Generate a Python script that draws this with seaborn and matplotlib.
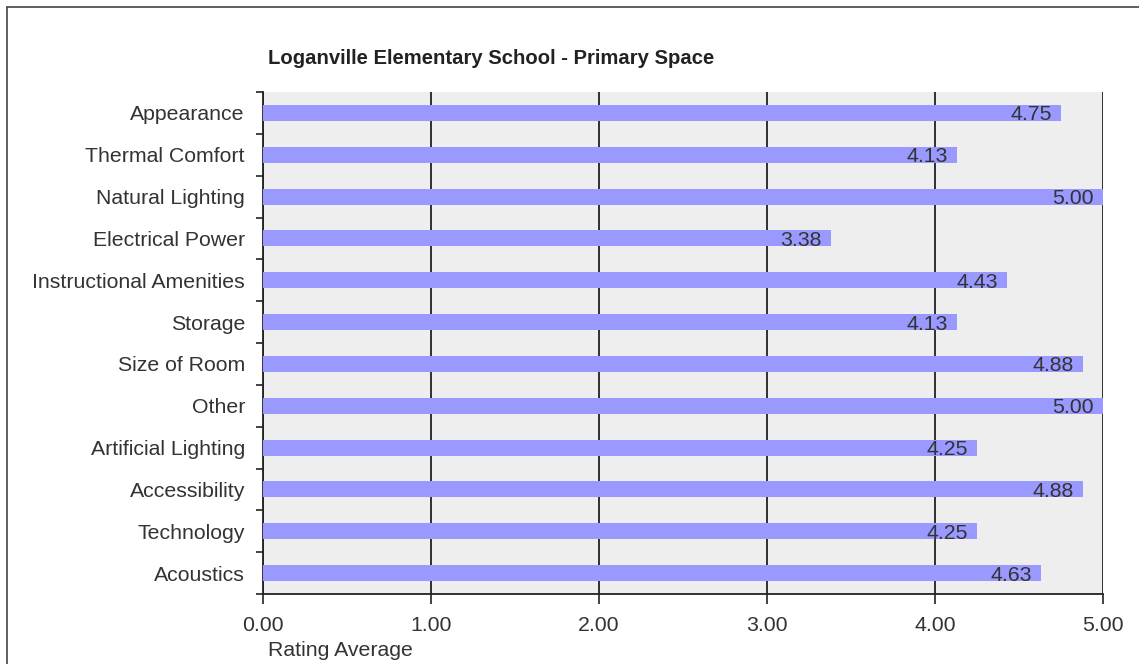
import matplotlib
matplotlib.use("Agg")
import matplotlib.pyplot as plt
from matplotlib.lines import Line2D
from matplotlib.ticker import FixedLocator, FormatStrFormatter
import numpy as np
import pandas as pd
import seaborn as sns

# Chart data
categories = [
    "Appearance", "Thermal Comfort", "Natural Lighting", "Electrical Power",
    "Instructional Amenities", "Storage", "Size of Room", "Other",
    "Artificial Lighting", "Accessibility", "Technology", "Acoustics",
]
ratings = [4.75, 4.13, 5.00, 3.38, 4.43, 4.13, 4.88, 5.00, 4.25, 4.88, 4.25, 4.63]
x_ticks = [0, 1, 2, 3, 4, 5]

title = "Loganville Elementary School - Primary Space"
x_label = "Rating Average"

df = pd.DataFrame({"category": categories, "rating": ratings})

sns.set_style("white")
plt.rcParams["font.family"] = ["Liberation Sans", "DejaVu Sans"]

text_color = "#333333"
font_size = 15.3
fig = plt.figure(figsize=(11.39, 6.64), dpi=100)
ax = fig.add_axes([263 / 1139, 1 - 594 / 664, 840 / 1139, 502 / 664])
ax.set_facecolor("#EEEEEE")

sns.barplot(data=df, y="category", x="rating", orient="h", color="#9999FF",
            saturation=1, width=0.38, linewidth=0, ax=ax, zorder=3)

ax.set_xlim(0, 5)
ax.set_ylim(len(categories) - 0.5, -0.5)

# vertical grid lines
ax.xaxis.set_major_locator(FixedLocator(x_ticks))
ax.xaxis.set_major_formatter(FormatStrFormatter("%.2f"))
ax.grid(axis="x", color="#222222", linewidth=1.3, zorder=1)
ax.set_axisbelow(True)

# category ticks at boundaries
ax.yaxis.set_minor_locator(FixedLocator(np.arange(-0.5, len(categories), 1.0)))
ax.tick_params(axis="y", which="minor", length=5, width=1.2, color="#222222", left=True)
ax.tick_params(axis="y", which="major", length=0, pad=13, labelsize=font_size, labelcolor=text_color)
ax.tick_params(axis="x", which="major", length=7, width=1.2, color="#222222", bottom=True,
               pad=9, labelsize=font_size, labelcolor=text_color)

for side in ["left", "bottom"]:
    ax.spines[side].set_color("#222222")
    ax.spines[side].set_linewidth(1.3)
ax.spines["top"].set_visible(False)
ax.spines["right"].set_visible(False)

ax.set_ylabel("")
ax.set_xlabel("")
fig.text(268 / 1139, 1 - 651 / 664, x_label, fontsize=font_size, color=text_color,
         ha="left", va="center")

# value labels at the bar ends
for i, v in enumerate(ratings):
    ax.annotate(f"{v:.2f}", xy=(v, i), xytext=(-9, -2), textcoords="offset pixels",
                ha="right", va="center", fontsize=font_size, color=text_color, zorder=4)

fig.text(268 / 1139, 1 - 58 / 664, title, fontsize=14.6, fontweight="bold",
         color="#222222", ha="left", va="center")

# outer frame (top and left)
fig.add_artist(Line2D([7 / 1139, 1.0], [1 - 7 / 664] * 2, color="#444444", linewidth=1.2,
                      transform=fig.transFigure))
fig.add_artist(Line2D([7 / 1139] * 2, [0.0, 1 - 7 / 664], color="#444444", linewidth=1.2,
                      transform=fig.transFigure))

fig.savefig("out.png", dpi=100)
